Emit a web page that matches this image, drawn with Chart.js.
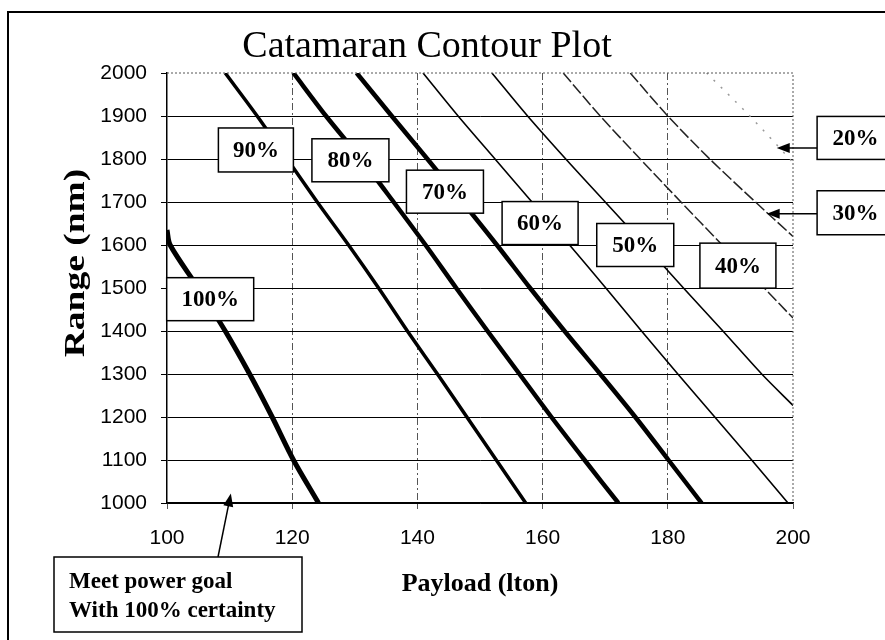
<!DOCTYPE html>
<html>
<head>
<meta charset="utf-8">
<script src="https://cdn.jsdelivr.net/npm/chart.js@4.4.1/dist/chart.umd.min.js"></script>
<style>
  body { margin: 0; background: #fff; }
  #wrap { width: 885px; height: 640px; position: relative; }
</style>
</head>
<body>
<div id="wrap"><canvas id="myChart" width="885" height="640"></canvas></div>
<script>
// contour levels: payload (lton) against range (nm)
const levels = ['100%', '90%', '80%', '70%', '60%', '50%', '40%', '30%', '20%'];

const payload100 = [100, 100.5, 105, 109.3, 113.2, 116.8, 120.2, 124.2];
const range100   = [1635, 1600, 1500, 1400, 1300, 1200, 1100, 1000];

const payload90 = [109.3, 114.4, 119.2, 124, 129, 133.8, 138.4, 143.2, 147.9, 152.6, 157.3];
const range90   = [2000, 1900, 1800, 1700, 1600, 1500, 1400, 1300, 1200, 1100, 1000];

const payload80 = [120.2, 125.4, 131, 136.2, 141.3, 146.2, 151.2, 156.3, 161.4, 166.7, 172.1];
const range80   = [2000, 1900, 1800, 1700, 1600, 1500, 1400, 1300, 1200, 1100, 1000];

const payload70 = [130.3, 135.9, 141.6, 147.2, 152.7, 158, 163.5, 169.2, 174.8, 180.1, 185.4];
const range70   = [2000, 1900, 1800, 1700, 1600, 1500, 1400, 1300, 1200, 1100, 1000];

const payload60 = [140.9, 146.5, 152.4, 158.3, 164.3, 170.1, 175.8, 181.6, 187.5, 193.4, 199.2];
const range60   = [2000, 1900, 1800, 1700, 1600, 1500, 1400, 1300, 1200, 1100, 1000];

const payload50 = [151.9, 157.6, 163.7, 170, 176.3, 182.5, 188.8, 195, 200];
const range50   = [2000, 1900, 1800, 1700, 1600, 1500, 1400, 1300, 1227];

const payload40 = [163.3, 169.2, 175.6, 182.1, 188.7, 195.4, 200];
const range40   = [2000, 1900, 1800, 1700, 1600, 1500, 1430];

const payload30 = [174, 180, 186.7, 194, 200];
const range30   = [2000, 1900, 1800, 1700, 1620];

const payload20 = [186.2, 193.1, 199.8];
const range20   = [2000, 1900, 1795];

const xTicks = [100, 120, 140, 160, 180, 200];
const yTicks = [1000, 1100, 1200, 1300, 1400, 1500, 1600, 1700, 1800, 1900, 2000];

function pts(xs, ys) {
  return xs.map((x, i) => ({ x: x, y: ys[i] }));
}

// label boxes, placed in data units
const boxLabels = [
  { text: '100%', x: 106.9, y: 1474, w: 87, h: 43 },
  { text: '90%',  x: 114.2, y: 1821, w: 75, h: 44 },
  { text: '80%',  x: 129.3, y: 1797, w: 77, h: 43 },
  { text: '70%',  x: 144.4, y: 1724, w: 77, h: 43 },
  { text: '60%',  x: 159.6, y: 1651, w: 76, h: 43 },
  { text: '50%',  x: 174.8, y: 1600, w: 77, h: 43 },
  { text: '40%',  x: 191.2, y: 1552, w: 76, h: 45 },
  { text: '20%',  x: 210.0, y: 1849, w: 77, h: 43, arrowTo: [197.4, 1826], dy: 10 },
  { text: '30%',  x: 210.0, y: 1675, w: 77, h: 44, arrowTo: [195.8, 1677], dy: 1 }
];

function arrow(ctx, x1, y1, x2, y2) {
  const a = Math.atan2(y2 - y1, x2 - x1);
  ctx.beginPath();
  ctx.moveTo(x1, y1);
  ctx.lineTo(x2 - 8 * Math.cos(a), y2 - 8 * Math.sin(a));
  ctx.stroke();
  ctx.beginPath();
  ctx.moveTo(x2, y2);
  ctx.lineTo(x2 - 13 * Math.cos(a) + 5 * Math.sin(a), y2 - 13 * Math.sin(a) - 5 * Math.cos(a));
  ctx.lineTo(x2 - 13 * Math.cos(a) - 5 * Math.sin(a), y2 - 13 * Math.sin(a) + 5 * Math.cos(a));
  ctx.closePath();
  ctx.fill();
}

const decorPlugin = {
  id: 'decor',
  beforeDraw(chart) {
    const ctx = chart.ctx;
    ctx.save();
    ctx.fillStyle = '#fff';
    ctx.fillRect(0, 0, chart.width, chart.height);
    ctx.restore();
  },
  afterDraw(chart) {
    const ctx = chart.ctx;
    const xs = chart.scales.x, ys = chart.scales.y;
    const a = chart.chartArea;
    ctx.save();

    // dotted top and right edge of plot
    ctx.strokeStyle = '#555';
    ctx.lineWidth = 1;
    ctx.setLineDash([2, 2]);
    ctx.beginPath();
    ctx.moveTo(a.left, a.top);
    ctx.lineTo(a.right, a.top);
    ctx.lineTo(a.right, a.bottom);
    ctx.stroke();
    ctx.setLineDash([]);

    // outer frame
    ctx.strokeStyle = '#000';
    ctx.lineWidth = 2;
    ctx.strokeRect(8, 12, 900, 660);

    // title
    ctx.fillStyle = '#000';
    ctx.font = '38px "Liberation Serif"';
    ctx.textAlign = 'center';
    ctx.textBaseline = 'alphabetic';
    ctx.fillText('Catamaran Contour Plot', 427, 57);

    // axis titles
    ctx.font = 'bold 26px "Liberation Serif"';
    ctx.fillText('Payload (lton)', 480, 591);
    ctx.save();
    ctx.translate(76, 263);
    ctx.rotate(-Math.PI / 2);
    ctx.scale(1.25, 1);
    ctx.font = 'bold 30px "Liberation Serif"';
    ctx.textBaseline = 'middle';
    ctx.fillText('Range (nm)', 0, 0);
    ctx.restore();

    // label boxes
    ctx.lineWidth = 1.5;
    ctx.font = 'bold 23px "Liberation Serif"';
    ctx.textBaseline = 'middle';
    boxLabels.forEach(b => {
      const cx = xs.getPixelForValue(b.x), cy = ys.getPixelForValue(b.y);
      if (b.arrowTo) {
        const ay = cy + b.dy;
        arrow(ctx, cx - b.w / 2, ay, xs.getPixelForValue(b.arrowTo[0]), ay);
      }
      ctx.fillStyle = '#fff';
      ctx.fillRect(cx - b.w / 2, cy - b.h / 2, b.w, b.h);
      ctx.strokeRect(cx - b.w / 2, cy - b.h / 2, b.w, b.h);
      ctx.fillStyle = '#000';
      ctx.fillText(b.text, cx, cy + 1);
    });

    // bottom note
    const nx = 54, ny = 557, nw = 248, nh = 75;
    arrow(ctx, 218, ny, xs.getPixelForValue(110.2), ys.getPixelForValue(1022));
    ctx.fillStyle = '#fff';
    ctx.fillRect(nx, ny, nw, nh);
    ctx.strokeRect(nx, ny, nw, nh);
    ctx.fillStyle = '#000';
    ctx.textAlign = 'left';
    ctx.textBaseline = 'alphabetic';
    ctx.fillText('Meet power goal', 69, 588);
    ctx.fillText('With 100% certainty', 69, 617);
    ctx.restore();
  }
};

function lineSet(label, xs, ys, width, color, dash) {
  return {
    label: label,
    data: pts(xs, ys),
    borderColor: color,
    borderWidth: width,
    borderDash: dash || [],
    pointRadius: 0,
    tension: 0.3,
    fill: false
  };
}

const ctx = document.getElementById('myChart').getContext('2d');
const chart = new Chart(ctx, {
  type: 'line',
  data: {
    datasets: [
      lineSet(levels[0], payload100, range100, 5, '#000'),
      lineSet(levels[1], payload90, range90, 3.5, '#000'),
      lineSet(levels[2], payload80, range80, 4.5, '#000'),
      lineSet(levels[3], payload70, range70, 4.5, '#000'),
      lineSet(levels[4], payload60, range60, 1.6, '#000'),
      lineSet(levels[5], payload50, range50, 1.6, '#000'),
      lineSet(levels[6], payload40, range40, 1.5, '#222', [12, 3]),
      lineSet(levels[7], payload30, range30, 1.5, '#222', [12, 3]),
      lineSet(levels[8], payload20, range20, 1.5, '#999', [2, 8])
    ]
  },
  options: {
    responsive: false,
    animation: false,
    layout: { padding: { top: 73, right: 92, left: 0, bottom: 0 } },
    plugins: { legend: { display: false }, tooltip: { enabled: false }, title: { display: false } },
    scales: {
      x: {
        type: 'linear',
        min: 100,
        max: 200,
        afterBuildTicks: s => { s.ticks = xTicks.map(v => ({ value: v })); },
        afterFit: s => { s.height = 137; },
        ticks: { color: '#000', font: { family: '"Liberation Sans"', size: 21 }, padding: 17, maxRotation: 0, callback: v => String(v) },
        grid: {
          color: c => (c.tick && (c.tick.value === 100 || c.tick.value === 200)) ? 'rgba(0,0,0,0)' : '#555',
          lineWidth: 1,
          tickLength: 6,
          tickColor: '#555'
        },
        border: { display: true, color: '#000', width: 1.5, dash: [7, 3, 2, 3] }
      },
      y: {
        type: 'linear',
        min: 1000,
        max: 2000,
        afterBuildTicks: s => { s.ticks = yTicks.map(v => ({ value: v })); },
        afterFit: s => { s.width = 167; },
        ticks: { color: '#000', font: { family: '"Liberation Sans"', size: 21 }, padding: 14, callback: v => String(v) },
        grid: {
          color: c => (c.tick && c.tick.value === 2000) ? 'rgba(0,0,0,0)' : '#000',
          lineWidth: 1,
          tickLength: 6,
          tickColor: '#000'
        },
        border: { display: true, color: '#000', width: 1.5 }
      }
    }
  },
  plugins: [decorPlugin]
});
</script>
</body>
</html>
